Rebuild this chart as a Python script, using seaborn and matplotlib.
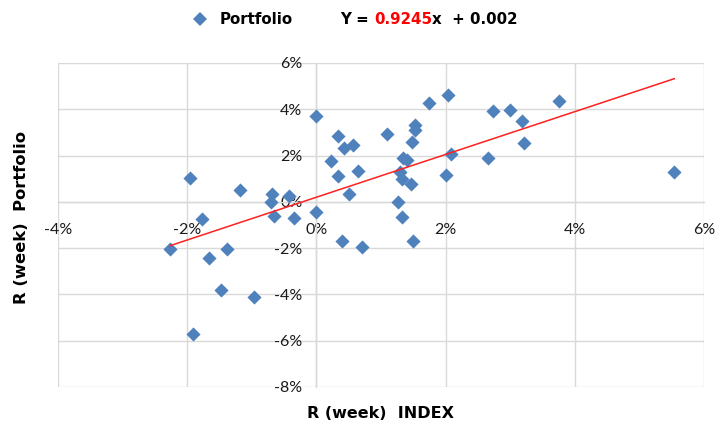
import matplotlib
matplotlib.use("Agg")
import matplotlib.pyplot as plt
import seaborn as sns
import pandas as pd
import numpy as np
from matplotlib.ticker import PercentFormatter, FixedLocator

# Weekly returns (percent): market index vs. portfolio
index_week_pct = [
    -2.26, -1.95, -1.91, -1.77, -1.67, -1.47, -1.39, -1.18, -0.96, -0.68,
    -0.71, -0.65, -0.43, -0.34, 0.00, -0.01, 0.33, 0.23, 0.34, 0.43,
    0.56, 0.65, 0.51, 0.39, 0.71, 1.10, 1.52, 1.53, 1.48, 1.34,
    1.40, 1.30, 1.32, 1.46, 1.27, 1.33, 1.50, 1.75, 2.04, 2.09,
    2.01, 2.66, 2.74, 3.00, 3.19, 3.22, 3.76, 5.54,
]
portfolio_week_pct = [
    -2.05, 1.04, -5.71, -0.72, -2.42, -3.81, -2.05, 0.50, -4.11, 0.32,
    0.00, -0.62, 0.26, -0.69, -0.42, 3.70, 2.86, 1.75, 1.13, 2.34,
    2.47, 1.34, 0.35, -1.67, -1.95, 2.94, 3.31, 3.10, 2.60, 1.88,
    1.80, 1.30, 1.00, 0.77, -0.02, -0.67, -1.69, 4.28, 4.63, 2.08,
    1.17, 1.90, 3.94, 3.98, 3.50, 2.55, 4.37, 1.30,
]

# Linear trend: Y = slope * x + intercept (decimal returns)
slope = 0.9245
intercept = 0.002

x_ticks_pct = [-4, -2, 0, 2, 4, 6]
y_ticks_pct = [-8, -6, -4, -2, 0, 2, 4, 6]

series_name = "Portfolio"
x_title = "R (week)  INDEX"
y_title = "R (week)  Portfolio"

marker_blue = "#4F81BD"
grid_grey = "#D9D9D9"

plt.rcParams["axes.unicode_minus"] = False

df = pd.DataFrame({
    "index": np.array(index_week_pct) / 100.0,
    "portfolio": np.array(portfolio_week_pct) / 100.0,
})

W, H = 716, 426
fig = plt.figure(figsize=(W / 100, H / 100), dpi=100)
ax = fig.add_axes([58 / W, 1 - 387 / H, (704 - 58) / W, (387 - 63) / H])

sns.scatterplot(data=df, x="index", y="portfolio", ax=ax, marker="D",
                color=marker_blue, s=52, linewidth=0, label=series_name,
                zorder=3, legend=False)

# trend line over the observed index range
x_fit = np.array([df["index"].min(), df["index"].max()])
fit_df = pd.DataFrame({"x": x_fit, "y": slope * x_fit + intercept})
sns.lineplot(data=fit_df, x="x", y="y", ax=ax, color="#FF2020",
             linewidth=1.1, zorder=4, legend=False)

ax.set_xlim(x_ticks_pct[0] / 100, x_ticks_pct[-1] / 100)
ax.set_ylim(y_ticks_pct[0] / 100, y_ticks_pct[-1] / 100)
ax.xaxis.set_major_locator(FixedLocator([t / 100 for t in x_ticks_pct]))
ax.yaxis.set_major_locator(FixedLocator([t / 100 for t in y_ticks_pct]))
ax.xaxis.set_major_formatter(PercentFormatter(xmax=1.0, decimals=0))
ax.yaxis.set_major_formatter(PercentFormatter(xmax=1.0, decimals=0))

# axes cross at the origin, labels sit beside the zero lines
ax.spines["left"].set_position(("data", 0))
ax.spines["bottom"].set_position(("data", 0))
for side in ["left", "bottom", "top", "right"]:
    ax.spines[side].set_color(grid_grey)
    ax.spines[side].set_linewidth(1.0)
ax.spines["top"].set_visible(False)
ax.spines["right"].set_visible(False)

ax.grid(True, color=grid_grey, linewidth=1.0, zorder=0)
ax.set_axisbelow(True)
ax.tick_params(axis="both", length=0, labelsize=11.5, labelcolor="#1a1a1a")
ax.tick_params(axis="x", pad=15)
ax.tick_params(axis="y", pad=10)
for lab in ax.get_xticklabels() + ax.get_yticklabels():
    lab.set_family("Lato")

ax.set_xlabel("")
ax.set_ylabel("")
fig.text(380 / W, 1 - 413 / H, x_title, ha="center", va="center",
         fontsize=11.5, fontweight="bold", family="DejaVu Sans")
fig.text(22 / W, 1 - 217 / H, y_title, ha="center", va="center",
         rotation=90, fontsize=11.8, fontweight="bold", family="DejaVu Sans")

# legend entry for the series
leg_size = 10.8
handle = plt.Line2D([], [], linestyle="none", marker="D", markersize=7.0,
                    markerfacecolor=marker_blue, markeredgewidth=0)
fig.legend([handle], [series_name], loc="center left",
           bbox_to_anchor=(193 / W, 1 - 20 / H), bbox_transform=fig.transFigure,
           frameon=False, borderpad=0, borderaxespad=0, handlelength=0.9,
           handletextpad=0.9, prop={"weight": "bold", "size": leg_size,
                                    "family": "DejaVu Sans"})

# regression equation with the slope in red
eq_font = dict(fontsize=leg_size, fontweight="bold", family="DejaVu Sans")
slope_txt = f"{slope:.4f}"
renderer = fig.canvas.get_renderer()


def text_width(s):
    t = fig.text(0, 0, s, **eq_font)
    w = t.get_window_extent(renderer).width
    t.remove()
    return w


x0 = 340
y0 = 1 - 20 / H
off_slope = text_width("Y = " + slope_txt[0]) - text_width(slope_txt[0])
off_rest = text_width("Y = " + slope_txt + "x") - text_width("x")
fig.text(x0 / W, y0, "Y =", va="center", ha="left", **eq_font)
fig.text((x0 + off_slope) / W, y0, slope_txt, va="center", ha="left",
         color="#FF0000", **eq_font)
fig.text((x0 + off_rest) / W, y0, f"x  + {intercept:.3f}", va="center",
         ha="left", **eq_font)

fig.savefig("out.png", dpi=100, facecolor="white")
